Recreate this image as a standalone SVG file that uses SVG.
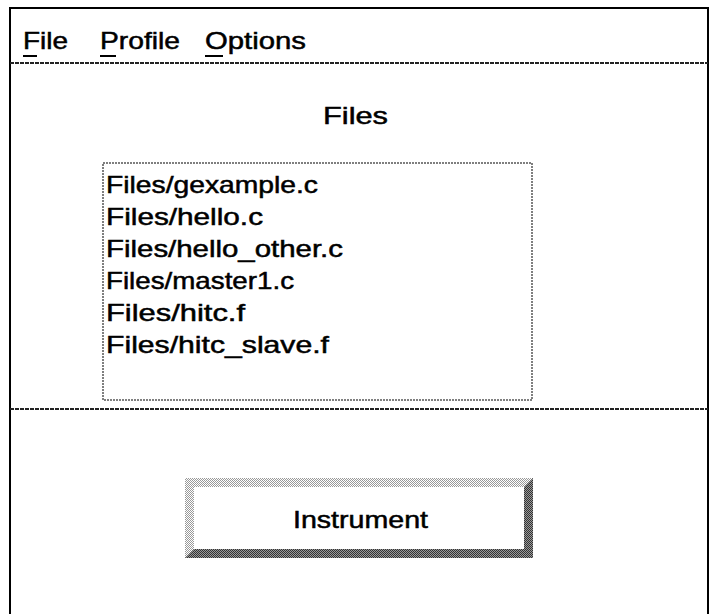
<svg xmlns="http://www.w3.org/2000/svg" width="712" height="614" viewBox="0 0 712 614">
<defs>
<pattern id="stipLight" width="2" height="2" patternUnits="userSpaceOnUse"><rect width="2" height="2" fill="#ffffff"/><rect width="1" height="1" fill="#999"/><rect x="1" y="1" width="1" height="1" fill="#999"/></pattern>
<pattern id="stipDark" width="2" height="2" patternUnits="userSpaceOnUse"><rect width="2" height="2" fill="#999"/><rect width="1" height="1" fill="#333"/><rect x="1" y="1" width="1" height="1" fill="#333"/></pattern>
</defs>
<style>
.t{font-family:"Liberation Sans",Arial,sans-serif;font-size:24px;fill:#000;stroke:#000;stroke-width:0.5}
.frame{fill:none;stroke:#000;stroke-width:2}
.div{stroke:#222;stroke-width:2;stroke-dasharray:4 1}
.ul{stroke:#000;stroke-width:2}
</style>
<rect width="712" height="614" fill="#fff"/>
<g id="window">
<path class="frame" d="M10,614 V8 H708 V614"/>
</g>
<g id="menubar">
<line class="div" x1="10" y1="63" x2="708" y2="63"/>
<text class="t" x="23" y="49" textLength="45" lengthAdjust="spacingAndGlyphs">File</text>
<line class="ul" x1="23" y1="56" x2="37" y2="56"/>
<text class="t" x="100" y="49" textLength="80" lengthAdjust="spacingAndGlyphs">Profile</text>
<line class="ul" x1="100" y1="56" x2="116" y2="56"/>
<text class="t" x="205" y="49" textLength="101" lengthAdjust="spacingAndGlyphs">Options</text>
<line class="ul" x1="205" y1="56" x2="223" y2="56"/>
</g>
<g id="files-title">
<text class="t" x="323" y="124" textLength="65" lengthAdjust="spacingAndGlyphs">Files</text>
</g>
<g id="file-list">
<rect x="103" y="163" width="429" height="237" fill="#fff" stroke="#555" stroke-width="1.5" stroke-dasharray="2 1"/>
<text class="t" x="106" y="193" textLength="212" lengthAdjust="spacingAndGlyphs">Files/gexample.c</text>
<text class="t" x="106" y="225" textLength="157" lengthAdjust="spacingAndGlyphs">Files/hello.c</text>
<text class="t" x="106" y="257" textLength="237" lengthAdjust="spacingAndGlyphs">Files/hello_other.c</text>
<text class="t" x="106" y="289" textLength="188" lengthAdjust="spacingAndGlyphs">Files/master1.c</text>
<text class="t" x="106" y="321" textLength="139" lengthAdjust="spacingAndGlyphs">Files/hitc.f</text>
<text class="t" x="106" y="353" textLength="223" lengthAdjust="spacingAndGlyphs">Files/hitc_slave.f</text>
</g>
<g id="separator">
<line class="div" x1="10" y1="409" x2="708" y2="409"/>
</g>
<g id="instrument-button">
<rect x="185" y="478" width="348" height="80" fill="url(#stipLight)"/>
<polygon points="533,478 533,558 185,558 194,549 524,549 524,487" fill="url(#stipDark)"/>
<rect x="194" y="487" width="330" height="62" fill="#fff"/>
<text class="t" x="293" y="528" textLength="135" lengthAdjust="spacingAndGlyphs">Instrument</text>
</g>
</svg>
